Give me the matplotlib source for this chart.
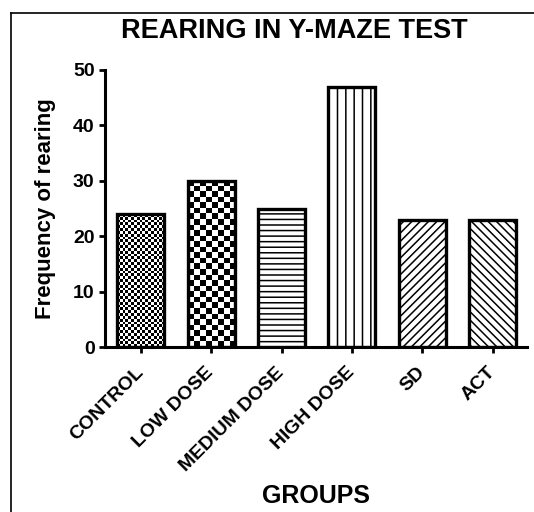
import numpy as np
import matplotlib
matplotlib.use("Agg")
import matplotlib.pyplot as plt
from matplotlib.lines import Line2D

categories = ["CONTROL", "LOW DOSE", "MEDIUM DOSE", "HIGH DOSE", "SD", "ACT"]
values = [24, 30, 25, 47, 23, 23]
yticks = [0, 10, 20, 30, 40, 50]

plt.rcParams['font.family'] = ['Liberation Sans', 'DejaVu Sans']
plt.rcParams['font.weight'] = 'bold'
plt.rcParams['hatch.linewidth'] = 1.1

W, H = 534, 512
fig = plt.figure(figsize=(W / 100, H / 100), dpi=100)
ax = fig.add_axes([105 / W, (H - 347) / H, (527 - 105) / W, (347 - 70) / H])

x = np.arange(len(categories))
width = 0.67
hatches = [None, None, '---', '||', '////', '\\\\\\\\']
faces = ['none', 'none', 'white', 'white', 'white', 'white']
bars = ax.bar(x, values, width=width, color=faces, edgecolor='black',
              linewidth=2.4, zorder=3)
for b, h in zip(bars, hatches):
    if h:
        b.set_hatch(h)

ax.set_xlim(-0.51, 5.49)
ax.set_ylim(0, 50)

# checkerboard fills
def checker(bar, sq_px):
    x0 = bar.get_x()
    w = bar.get_width()
    hgt = bar.get_height()
    p0 = ax.transData.transform((x0, 0))
    p1 = ax.transData.transform((x0 + w, hgt))
    ncol = max(1, int(round((p1[0] - p0[0]) / sq_px)))
    nrow = max(1, int(round((p1[1] - p0[1]) / sq_px)))
    arr = (np.add.outer(np.arange(nrow), np.arange(ncol)) % 2).astype(float)
    im = ax.imshow(arr, cmap='gray', extent=(x0, x0 + w, 0, hgt),
                   interpolation='nearest', aspect='auto', zorder=2.5,
                   vmin=0, vmax=1)
    im.set_clip_path(bar)

checker(bars[0], 2.8)
checker(bars[1], 5.6)
ax.set_xlim(-0.51, 5.49)
ax.set_ylim(0, 50)

for s in ['top', 'right']:
    ax.spines[s].set_visible(False)
for s in ['left', 'bottom']:
    ax.spines[s].set_linewidth(2.2)
    ax.spines[s].set_zorder(4)

ax.set_yticks(yticks)
ax.set_yticklabels([str(v) for v in yticks], fontsize=14, fontweight='bold')
ax.set_xticks(x)
ax.set_xticklabels(categories, rotation=45, ha='right', va='center',
                   rotation_mode='anchor', fontsize=14, fontweight='bold')
ax.tick_params(axis='both', direction='out', length=4.5, width=2, pad=3)
ax.tick_params(axis='x', pad=12)

ax.set_ylabel("Frequency of rearing", fontsize=16, fontweight='bold', labelpad=12)
fig.text(316 / W, 1 - 496 / H, "GROUPS", ha='center', va='center',
         fontsize=18, fontweight='bold')
fig.text(294 / W, 1 - 31 / H, "REARING IN Y-MAZE TEST", ha='center', va='center',
         fontsize=19.5, fontweight='bold')

# frame lines (left and top)
fig.add_artist(Line2D([11 / W, 11 / W], [0, 1 - 13 / H], color='black',
                      linewidth=1.2, transform=fig.transFigure))
fig.add_artist(Line2D([11 / W, 1], [1 - 13 / H, 1 - 13 / H], color='black',
                      linewidth=1.2, transform=fig.transFigure))

fig.savefig("out.png", dpi=100)
